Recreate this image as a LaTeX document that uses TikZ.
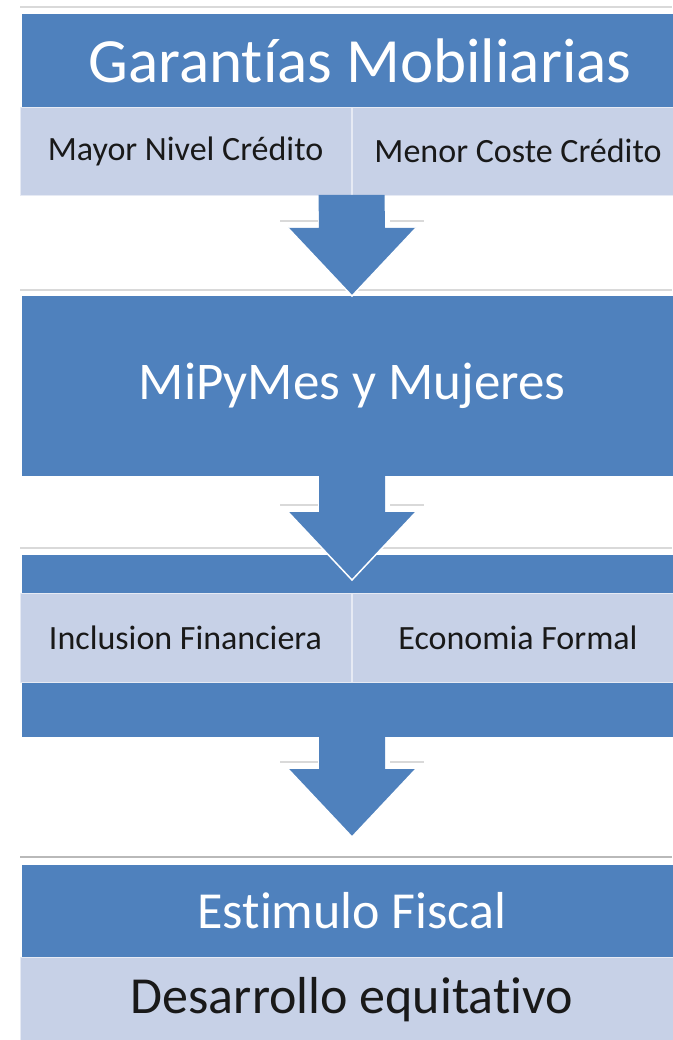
\documentclass[tikz,border=0pt]{standalone}
\usepackage{fontspec}
\setmainfont{Carlito}[Ligatures=NoCommon]
\usetikzlibrary{calc}
\definecolor{azul}{RGB}{79,129,189}
\definecolor{celeste}{RGB}{199,209,231}
\definecolor{tinta}{RGB}{25,25,25}
\begin{document}
\begin{tikzpicture}[x=1pt, y=-1pt,
  oscuro/.style={fill=azul, text=white, anchor=north west, inner sep=0pt, outer sep=0pt, minimum width=660pt},
  claro/.style={fill=celeste, draw=white!55!celeste, line width=0.8pt, text=tinta, anchor=north west, inner sep=0pt, outer sep=0pt, font=\fontsize{34}{40}\selectfont},
  raya/.style={draw=gray!30, line width=1.5pt},
  flecha/.style={fill=azul},
  borde/.style={draw=white, line width=1.5pt},
  sombra/.style={draw=gray!30, line width=1.5pt}]
\useasboundingbox (0,0) rectangle (672,1040);
\draw[raya] (20,7) -- (672,7);
\node[oscuro, minimum height=93pt, font=\fontsize{63}{70}\selectfont] (gm) at (22,14) {\hspace*{16pt}Garantías Mobiliarias};
\node[claro, minimum width=331pt, minimum height=88pt] (nivel) at (20,107) {Mayor Nivel Crédito};
\node[claro, minimum width=332pt, minimum height=88pt] (coste) at (352,107) {Menor Coste Crédito};
\draw[raya] (20,290) -- (672,290);
\node[oscuro, minimum height=180pt, font=\fontsize{53}{60}\selectfont] (mipymes) at (22,296) {MiPyMes y Mujeres};
\draw[raya] (20,548) -- (672,548);
\node[oscuro, minimum height=182pt] (banda) at (22,555) {};
\node[claro, minimum width=331pt, minimum height=89pt] (inclusion) at (20,593) {Inclusion Financiera};
\node[claro, minimum width=332pt, minimum height=89pt] (formal) at (352,593) {Economia Formal};
\draw[raya, draw=gray!55] (20,857) -- (672,857);
\node[oscuro, minimum height=92pt, font=\fontsize{52}{60}\selectfont] (fiscal) at (22,865) {Estimulo Fiscal};
\node[claro, minimum width=664pt, minimum height=86pt, font=\fontsize{52}{60}\selectfont] (desarrollo) at (20,957) {Desarrollo equitativo};
\coordinate (p1) at ($(nivel.south east)!0.5!(coste.south west)$);
\coordinate (q1) at (mipymes.north);
\coordinate (p2) at (mipymes.south);
\coordinate (q2) at ($(banda.north)+(0,25)$);
\coordinate (p3) at (banda.south);
\coordinate (q3) at ($(fiscal.north)+(0,-28)$);
\foreach \p/\q in {p1/q1, p2/q2, p3/q3}{
  \draw[sombra] ($(\q)+(-72,-75)$) -- ($(\q)+(-34,-75)$) ($(\q)+(38,-75)$) -- ($(\q)+(72,-75)$);
  \fill[flecha] ($(\p)+(-33,0)$) -- ($(\p)+(33,0)$) -- ($(\q)+(33,-68)$) -- ($(\q)+(64,-68)$) -- (\q) -- ($(\q)+(-64,-68)$) -- ($(\q)+(-33,-68)$) -- cycle;
  \draw[borde] ($(\q)+(-64,-68)$) -- (\q) -- ($(\q)+(64,-68)$);
}
\end{tikzpicture}
\end{document}
